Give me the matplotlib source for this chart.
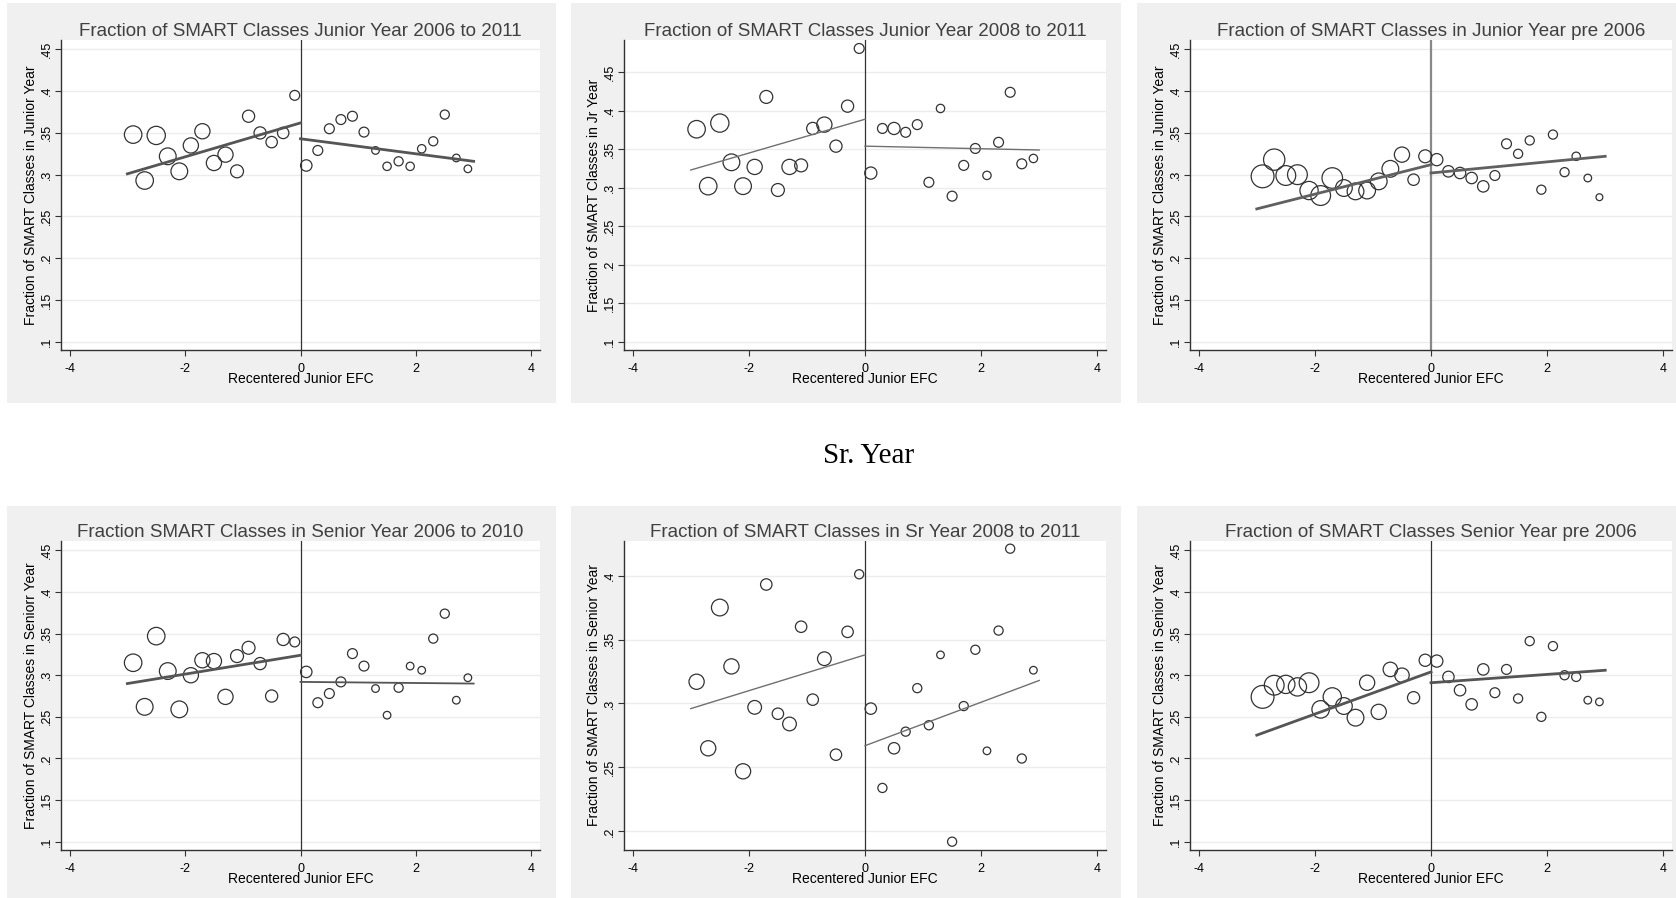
import matplotlib.pyplot as plt
from matplotlib.patches import Rectangle

# bin midpoints of recentered junior EFC
efc_bins = [-2.9, -2.7, -2.5, -2.3, -2.1, -1.9, -1.7, -1.5, -1.3, -1.1, -0.9, -0.7, -0.5, -0.3, -0.1,
            0.1, 0.3, 0.5, 0.7, 0.9, 1.1, 1.3, 1.5, 1.7, 1.9, 2.1, 2.3, 2.5, 2.7, 2.9]
fit_x_left = [-3, 0]
fit_x_right = [0, 3]

# Junior year 2006-2011
jr0611_frac = [.348, .293, .347, .322, .304, .335, .352, .314, .324, .304, .370, .350, .339, .350, .395,
               .311, .329, .355, .366, .370, .351, .329, .310, .316, .310, .331, .340, .372, .320, .307]
jr0611_n = [529, 529, 576, 484, 484, 400, 400, 400, 400, 289, 256, 256, 225, 225, 169,
            225, 169, 169, 169, 169, 169, 100, 121, 144, 121, 121, 144, 144, 100, 100]
jr0611_fit_left = [.301, .362]
jr0611_fit_right = [.343, .316]

# Junior year 2008-2011
jr0811_frac = [.376, .302, .384, .333, .302, .327, .418, .297, .327, .329, .377, .382, .354, .406, .481,
               .319, .377, .377, .372, .382, .307, .403, .289, .329, .351, .316, .359, .424, .331, .338]
jr0811_n = [529, 529, 576, 484, 484, 400, 289, 289, 400, 289, 256, 400, 256, 256, 169,
            256, 169, 256, 169, 169, 169, 121, 169, 169, 169, 121, 169, 169, 169, 121]
jr0811_fit_left = [.323, .389]
jr0811_fit_right = [.354, .349]

# Junior year pre 2006
jrpre06_frac = [.298, .318, .299, .300, .281, .275, .296, .284, .280, .281, .292, .307, .324, .294, .322,
                .318, .304, .302, .296, .286, .299, .337, .325, .341, .282, .348, .303, .322, .296, .273]
jrpre06_n = [900, 784, 676, 676, 576, 676, 729, 484, 484, 484, 484, 484, 400, 225, 289,
             256, 225, 225, 225, 225, 169, 169, 144, 144, 144, 144, 144, 121, 100, 81]
jrpre06_fit_left = [.259, .312]
jrpre06_fit_right = [.302, .322]

# Senior year 2006-2010
sr0610_frac = [.315, .262, .347, .305, .259, .300, .318, .317, .274, .323, .333, .314, .275, .343, .340,
               .304, .267, .278, .292, .326, .311, .284, .252, .285, .311, .306, .344, .374, .270, .297]
sr0610_n = [529, 484, 529, 484, 484, 400, 400, 400, 400, 289, 289, 256, 256, 256, 169,
            225, 169, 169, 169, 169, 169, 100, 100, 144, 100, 100, 144, 144, 100, 100]
sr0610_fit_left = [.290, .324]
sr0610_fit_right = [.292, .290]

# Senior year 2008-2011
sr0811_frac = [.317, .265, .375, .329, .247, .297, .393, .292, .284, .360, .303, .335, .260, .356, .401,
               .296, .234, .265, .278, .312, .283, .338, .192, .298, .342, .263, .357, .421, .257, .326]
sr0811_n = [400, 400, 484, 400, 400, 324, 225, 225, 324, 225, 225, 324, 225, 225, 144,
            225, 144, 225, 144, 144, 144, 100, 144, 144, 144, 100, 144, 144, 144, 100]
sr0811_fit_left = [.296, .338]
sr0811_fit_right = [.267, .318]

# Senior year pre 2006
srpre06_frac = [.274, .288, .289, .286, .291, .259, .274, .263, .249, .291, .256, .307, .300, .273, .318,
                .317, .298, .282, .265, .307, .279, .307, .272, .341, .250, .335, .300, .298, .270, .268]
srpre06_n = [900, 676, 576, 576, 676, 529, 576, 484, 484, 400, 400, 361, 361, 256, 256,
             256, 225, 225, 225, 225, 169, 169, 144, 144, 144, 144, 144, 144, 100, 100]
srpre06_fit_left = [.228, .304]
srpre06_fit_right = [.291, .306]

yticks_full = [.1, .15, .2, .25, .3, .35, .4, .45]
yticks_sr0811 = [.2, .25, .3, .35, .4]
xticks = [-4, -2, 0, 2, 4]

W, H = 1676, 898
plt.rcParams['font.family'] = ['Liberation Sans', 'DejaVu Sans']
fig = plt.figure(figsize=(W / 100, H / 100), dpi=100)
fig.patch.set_facecolor('white')

BG = '#f0f0f0'
TXT = '#404040'

# gray graph regions (left, top, right, bottom in px)
for l, t, r, b in [(7, 3, 556, 403), (571, 3, 1121, 403), (1137, 3, 1676, 403),
                   (7, 506, 556, 898), (571, 506, 1121, 898), (1137, 506, 1676, 898)]:
    fig.patches.append(Rectangle((l / W, 1 - b / H), (r - l) / W, (b - t) / H,
                                 transform=fig.transFigure, facecolor=BG, edgecolor='none', zorder=-10))

panels = [
    dict(box=(61, 40, 540, 350), title='Fraction of SMART Classes Junior Year 2006 to 2011',
         ylabel='Fraction of SMART Classes in Junior Year', y=jr0611_frac, n=jr0611_n,
         fl=jr0611_fit_left, fr=jr0611_fit_right, ylim=(.09, .4613), yt=yticks_full,
         lw=(2.0, 2.0), lc='#555555', vc='#333333', vw=0.9),
    dict(box=(624, 40, 1106, 350), title='Fraction of SMART Classes Junior Year 2008 to 2011',
         ylabel='Fraction of SMART Classes in Jr Year', y=jr0811_frac, n=jr0811_n,
         fl=jr0811_fit_left, fr=jr0811_fit_right, ylim=(.089, .492), yt=yticks_full,
         lw=(1.0, 1.0), lc='#707070', vc='#333333', vw=0.9),
    dict(box=(1190, 40, 1672, 350), title='Fraction of SMART Classes in Junior Year pre 2006',
         ylabel='Fraction of SMART Classes in Junior Year', y=jrpre06_frac, n=jrpre06_n,
         fl=jrpre06_fit_left, fr=jrpre06_fit_right, ylim=(.09, .4613), yt=yticks_full,
         lw=(2.0, 2.0), lc='#606060', vc='#888888', vw=1.6),
    dict(box=(61, 541, 540, 850), title='Fraction SMART Classes in Senior Year 2006 to 2010',
         ylabel='Fraction of SMART Classes in Seniorr Year', y=sr0610_frac, n=sr0610_n,
         fl=sr0610_fit_left, fr=sr0610_fit_right, ylim=(.09, .4613), yt=yticks_full,
         lw=(2.0, 1.3), lc='#555555', vc='#333333', vw=0.9),
    dict(box=(624, 541, 1106, 850), title='Fraction of SMART Classes in Sr Year 2008 to 2011',
         ylabel='Fraction of SMART Classes in Senior Year', y=sr0811_frac, n=sr0811_n,
         fl=sr0811_fit_left, fr=sr0811_fit_right, ylim=(.1855, .427), yt=yticks_sr0811,
         lw=(1.0, 1.0), lc='#707070', vc='#333333', vw=0.9),
    dict(box=(1190, 541, 1672, 850), title='Fraction of SMART Classes Senior Year pre 2006',
         ylabel='Fraction of SMART Classes in Senior Year', y=srpre06_frac, n=srpre06_n,
         fl=srpre06_fit_left, fr=srpre06_fit_right, ylim=(.09, .4613), yt=yticks_full,
         lw=(2.0, 2.0), lc='#555555', vc='#333333', vw=0.9),
]

for p in panels:
    l, t, r, b = p['box']
    ax = fig.add_axes([l / W, 1 - b / H, (r - l) / W, (b - t) / H])
    ax.set_facecolor('white')
    ax.set_xlim(-4.15, 4.15)
    ax.set_ylim(*p['ylim'])

    for yv in p['yt']:
        ax.axhline(yv, color='#ececec', lw=1.0, zorder=1)
    ax.axvline(0, color=p['vc'], lw=p['vw'], zorder=2)

    ax.scatter(efc_bins, p['y'], s=[0.30 * v for v in p['n']], facecolors='none',
               edgecolors='#333333', linewidths=0.9, zorder=3)
    ax.plot(fit_x_left, p['fl'], color=p['lc'], lw=p['lw'][0], zorder=4)
    ax.plot(fit_x_right, p['fr'], color=p['lc'], lw=p['lw'][1], zorder=4)

    ax.set_xticks(xticks)
    ax.set_xticklabels([str(v) for v in xticks], fontsize=9)
    ax.set_yticks(p['yt'])
    ax.set_yticklabels([('%g' % v).lstrip('0') for v in p['yt']], fontsize=9,
                       rotation=90, va='center')
    ax.tick_params(direction='out', length=4, width=0.8, color='#333333')
    ax.tick_params(axis='x', pad=5)
    ax.tick_params(axis='y', pad=2)

    for side in ['top', 'right']:
        ax.spines[side].set_visible(False)
    for side in ['left', 'bottom']:
        ax.spines[side].set_color('#333333')
        ax.spines[side].set_linewidth(1.0)

    ax.set_title(p['title'], fontsize=13.5, color=TXT, pad=3)
    ax.set_xlabel('Recentered Junior EFC', fontsize=10, labelpad=-1.5)
    ax.set_ylabel(p['ylabel'], fontsize=10, labelpad=2)

fig.text(869 / W, 1 - 456 / H, 'Sr. Year', fontsize=21, family='Liberation Serif',
         ha='center', va='center')

fig.savefig('out.png', dpi=100)
